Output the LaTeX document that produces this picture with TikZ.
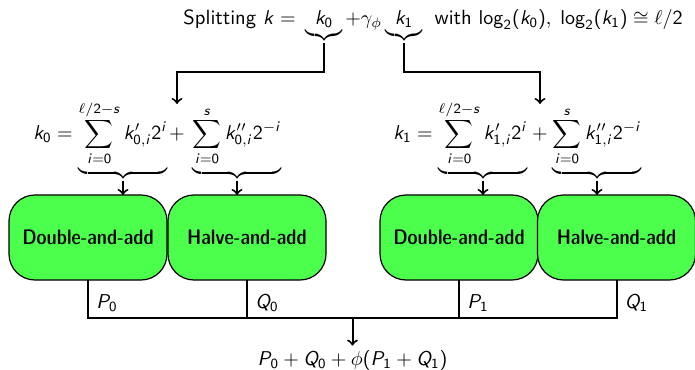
\documentclass[tikz,border=0pt]{standalone}
\renewcommand{\familydefault}{\sfdefault}
\DeclareSymbolFont{sfit}{OT1}{cmss}{m}{sl}
\SetSymbolFont{operators}{normal}{OT1}{cmss}{m}{n}
\DeclareMathSymbol{k}{\mathalpha}{sfit}{`k}
\DeclareMathSymbol{i}{\mathalpha}{sfit}{`i}
\DeclareMathSymbol{s}{\mathalpha}{sfit}{`s}
\DeclareMathSymbol{P}{\mathalpha}{sfit}{`P}
\DeclareMathSymbol{Q}{\mathalpha}{sfit}{`Q}
\begin{document}
\begin{tikzpicture}[x=0.5pt,y=-0.5pt,
  alg/.style={draw, fill=green!70, rounded corners=13pt, minimum width=79pt,
    minimum height=42.5pt, outer sep=0pt, font=\fontsize{10.5}{12}\fontseries{sbc}\selectfont, line width=0.6pt},
  eq/.style={inner sep=0pt, anchor=base},
  top/.style={eq, font=\fontsize{10.3}{12}\selectfont},
  conn/.style={line width=1pt},
  lbl/.style={inner sep=0pt, anchor=base west}]
\useasboundingbox (0,0) rectangle (695,369);
% top line
\node[top, anchor=base east] (t1) at (296,25) {Splitting $k =$};
\node[top] (b0) at (324,25) {$\underbrace{\hspace{4.5pt}k_0\hspace{4.5pt}}$};
\node[top, anchor=base west] (g) at (345,25) {$+\gamma_\phi$};
\node[top] (b1) at (404,25) {$\underbrace{\hspace{4.5pt}k_1\hspace{4.5pt}}$};
\node[top, anchor=base east] (t2) at (683,25) {with $\log_2(k_0),\;\log_2(k_1) \cong \ell/2$};
% left equation
\node[eq, anchor=base west] (e0) at (33,140) {$k_0 =$};
\node[eq] (s01) at (123,140) {$\displaystyle\underbrace{\sum_{i=0}^{\ell/2-s} k'_{0,i}2^i}$};
\node[eq] (p0) at (177,140) {$+$};
\node[eq] (s02) at (237,140) {$\displaystyle\underbrace{\sum_{i=0}^{s} k''_{0,i}2^{-i}}$};
% right equation
\node[eq, anchor=base west] (e1) at (393,140) {$k_1 =$};
\node[eq] (s11) at (483,140) {$\displaystyle\underbrace{\sum_{i=0}^{\ell/2-s} k'_{1,i}2^i}$};
\node[eq] (p1) at (540,140) {$+$};
\node[eq] (s12) at (597,140) {$\displaystyle\underbrace{\sum_{i=0}^{s} k''_{1,i}2^{-i}}$};
% boxes
\node[alg] (d0) at (88,237.5) {Double-and-add};
\node[alg] (h0) at (247,237.5) {Halve-and-add};
\node[alg] (d1) at (459,237.5) {Double-and-add};
\node[alg] (h1) at (616.5,237.5) {Halve-and-add};
% connectors top
\coordinate (c0) at (177,104);
\coordinate (c1) at (540,104);
\draw[conn,->] (b0.south) |- (177,72) -- (c0);
\draw[conn,->] (b1.south) |- (540,72) -- (c1);
\draw[conn,->] (s01.south) -- (s01.south |- d0.north);
\draw[conn,->] (s02.south) -- (s02.south |- h0.north);
\draw[conn,->] (s11.south) -- (s11.south |- d1.north);
\draw[conn,->] (s12.south) -- (s12.south |- h1.north);
% bottom
\coordinate (bl) at (352.5,318);
\draw[conn] (d0.south) |- (bl) -| (h1.south);
\draw[conn] (h0.south) -- (h0.south |- bl);
\draw[conn] (d1.south) -- (d1.south |- bl);
\node[eq] (res) at (352.5,365) {$P_0 + Q_0 + \phi(P_1 + Q_1)$};
\draw[conn,->] (bl) -- ([yshift=2pt]res.north);
\node[lbl] at ([xshift=4pt]d0.south |- 0,308) {$P_0$};
\node[lbl] at ([xshift=4pt]h0.south |- 0,308) {$Q_0$};
\node[lbl] at ([xshift=4pt]d1.south |- 0,308) {$P_1$};
\node[lbl] at ([xshift=4pt]h1.south |- 0,308) {$Q_1$};
\end{tikzpicture}
\end{document}
